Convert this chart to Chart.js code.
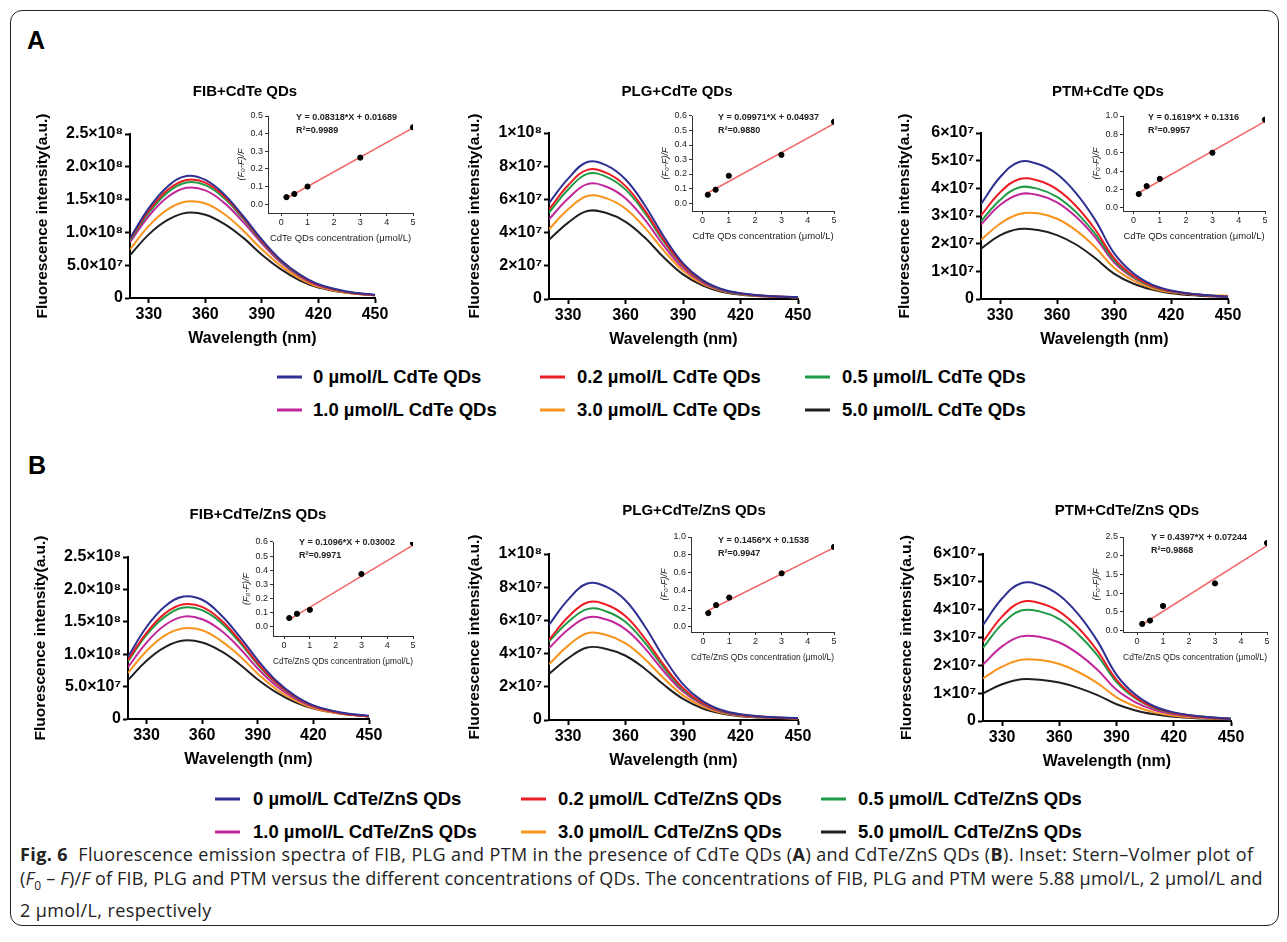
<!DOCTYPE html>
<html lang="en">
<head>
<meta charset="UTF-8">
<title>Fig. 6 Fluorescence emission spectra</title>
<script src="https://cdn.jsdelivr.net/npm/chart.js@4.4.1/dist/chart.umd.min.js"></script>
<style>
    body { margin: 0; background: #fff; }
    #page { position: relative; width: 1287px; height: 942px; overflow: hidden; background: #fff;
            font-family: "Liberation Sans", Arial, sans-serif; color: #000; }
    #frame { position: absolute; left: 10px; top: 10px; width: 1267px; height: 914px;
             border: 1.5px solid #222; border-radius: 12px; }
    canvas { position: absolute; }
    .panel-label { position: absolute; font-weight: bold; font-size: 25px; line-height: 25px; }
    .chart-title { position: absolute; font-weight: bold; font-size: 15px; line-height: 18px;
                   transform: translate(-50%, -50%); white-space: nowrap; }
    .legend-item { position: absolute; font-weight: bold; font-size: 18.5px; line-height: 22px;
                   white-space: nowrap; transform: translateY(-50%); }
    .legend-line { position: absolute; height: 3px; width: 25px; transform: translateY(-50%); }
    #caption { position: absolute; left: 20px; top: 842px; font-family: "Open Sans", sans-serif;
               font-size: 18px; letter-spacing: 0.4px; line-height: 24px; white-space: nowrap; color: #222; }
    #caption b { font-weight: bold; }
    #caption .tight { letter-spacing: 0.18px; }
</style>
</head>
<body>
<div id="page">
    <div id="frame"></div>
    <div class="panel-label" style="left:27px; top:28px;">A</div>
    <div class="panel-label" style="left:28px; top:453px;">B</div>
    <div id="caption">
        <b>Fig. 6</b>&nbsp; Fluorescence emission spectra of FIB, PLG and PTM in the presence of CdTe QDs (<b>A</b>) and CdTe/ZnS QDs (<b>B</b>). Inset: Stern–Volmer plot of<br>
        <span class="tight">(<i>F</i><sub style="font-size:12px">0</sub> – <i>F</i>)/<i>F</i> of FIB, PLG and PTM versus the different concentrations of QDs. The concentrations of FIB, PLG and PTM were 5.88 µmol/L, 2 µmol/L and</span><br>
        2 µmol/L, respectively
    </div>
</div>

<script>
    // wavelength grid (nm)
    const wavelengths = [320, 330, 340, 350, 360, 370, 380, 390, 400, 410, 420, 435, 450];
    const xTicks = [330, 360, 390, 420, 450];

    const seriesColors = ['#2e3192', '#ed1c24', '#1f9a45', '#c2269a', '#f7941d', '#231f20'];
    const cdteLegend = ['0 µmol/L CdTe QDs', '0.2 µmol/L CdTe QDs', '0.5 µmol/L CdTe QDs',
                        '1.0 µmol/L CdTe QDs', '3.0 µmol/L CdTe QDs', '5.0 µmol/L CdTe QDs'];
    const znsLegend = ['0 µmol/L CdTe/ZnS QDs', '0.2 µmol/L CdTe/ZnS QDs', '0.5 µmol/L CdTe/ZnS QDs',
                       '1.0 µmol/L CdTe/ZnS QDs', '3.0 µmol/L CdTe/ZnS QDs', '5.0 µmol/L CdTe/ZnS QDs'];

    // y tick labels
    const fibTicks = ['0', '5.0×10⁷', '1.0×10⁸', '1.5×10⁸', '2.0×10⁸', '2.5×10⁸'];
    const plgTicks = ['0', '2×10⁷', '4×10⁷', '6×10⁷', '8×10⁷', '1×10⁸'];
    const ptmTicks = ['0', '1×10⁷', '2×10⁷', '3×10⁷', '4×10⁷', '5×10⁷', '6×10⁷'];

    // spectra, one row per QD concentration (0, 0.2, 0.5, 1.0, 3.0, 5.0)
    // FIB in units of 1e8, PLG in units of 1e6, PTM in units of 1e7
    const fibCdTe = [
        [0.91, 1.37, 1.70, 1.86, 1.80, 1.58, 1.25, 0.89, 0.58, 0.36, 0.21, 0.10, 0.05],
        [0.90, 1.33, 1.65, 1.80, 1.76, 1.55, 1.23, 0.87, 0.57, 0.35, 0.20, 0.09, 0.04],
        [0.88, 1.30, 1.61, 1.76, 1.72, 1.52, 1.21, 0.86, 0.56, 0.34, 0.20, 0.09, 0.04],
        [0.85, 1.25, 1.54, 1.68, 1.64, 1.45, 1.16, 0.83, 0.54, 0.33, 0.19, 0.09, 0.04],
        [0.74, 1.10, 1.35, 1.47, 1.44, 1.28, 1.03, 0.74, 0.49, 0.30, 0.17, 0.08, 0.04],
        [0.65, 0.97, 1.19, 1.30, 1.27, 1.13, 0.92, 0.66, 0.44, 0.27, 0.16, 0.08, 0.04]
    ];
    const plgCdTe = [
        [57.8, 72.5, 82.5, 80.5, 72.0, 56.5, 37.5, 21.5, 11.5, 6.0, 3.5, 1.8, 1.2],
        [54.0, 68.5, 77.8, 76.0, 68.0, 53.4, 35.5, 20.5, 11.0, 5.8, 3.3, 1.7, 1.1],
        [52.0, 66.0, 75.4, 73.6, 65.9, 51.8, 34.5, 20.0, 10.7, 5.6, 3.2, 1.7, 1.1],
        [48.0, 60.5, 69.2, 67.6, 60.6, 47.8, 32.0, 18.6, 10.0, 5.3, 3.1, 1.6, 1.1],
        [42.0, 54.0, 62.0, 60.6, 54.4, 43.0, 29.0, 17.0, 9.2, 4.9, 2.9, 1.5, 1.0],
        [35.7, 46.0, 53.0, 51.8, 46.5, 37.0, 25.0, 14.8, 8.2, 4.4, 2.6, 1.4, 0.9]
    ];
    const ptmCdTe = [
        [3.43, 4.40, 4.95, 4.88, 4.52, 3.83, 2.87, 1.66, 0.94, 0.52, 0.31, 0.16, 0.08],
        [3.02, 3.85, 4.33, 4.28, 3.96, 3.36, 2.52, 1.48, 0.85, 0.48, 0.29, 0.15, 0.08],
        [2.81, 3.58, 4.03, 3.98, 3.69, 3.14, 2.36, 1.40, 0.81, 0.46, 0.28, 0.15, 0.08],
        [2.69, 3.40, 3.78, 3.76, 3.49, 2.97, 2.24, 1.33, 0.78, 0.45, 0.27, 0.15, 0.08],
        [2.14, 2.72, 3.07, 3.10, 2.90, 2.48, 1.88, 1.13, 0.67, 0.39, 0.24, 0.14, 0.12],
        [1.82, 2.30, 2.53, 2.49, 2.31, 1.97, 1.48, 0.92, 0.56, 0.34, 0.21, 0.12, 0.07]
    ];
    const fibZnS = [
        [0.96, 1.42, 1.74, 1.89, 1.84, 1.61, 1.28, 0.91, 0.59, 0.36, 0.21, 0.10, 0.05],
        [0.91, 1.33, 1.63, 1.77, 1.73, 1.53, 1.22, 0.86, 0.56, 0.35, 0.20, 0.09, 0.04],
        [0.89, 1.30, 1.58, 1.72, 1.68, 1.49, 1.19, 0.84, 0.55, 0.34, 0.20, 0.09, 0.04],
        [0.80, 1.18, 1.45, 1.58, 1.54, 1.37, 1.10, 0.78, 0.51, 0.32, 0.19, 0.09, 0.04],
        [0.71, 1.05, 1.29, 1.40, 1.37, 1.21, 0.98, 0.70, 0.46, 0.29, 0.17, 0.08, 0.04],
        [0.60, 0.90, 1.11, 1.21, 1.18, 1.05, 0.85, 0.61, 0.41, 0.26, 0.16, 0.08, 0.04]
    ];
    const plgZnS = [
        [57.3, 72.5, 82.2, 80.2, 72.0, 56.5, 37.5, 21.5, 11.5, 6.0, 3.5, 1.8, 1.2],
        [48.3, 62.0, 70.8, 69.4, 62.5, 49.2, 33.0, 19.2, 10.4, 5.5, 3.2, 1.7, 1.1],
        [47.3, 59.0, 66.8, 65.4, 59.0, 46.6, 31.4, 18.3, 10.0, 5.3, 3.1, 1.6, 1.1],
        [43.3, 54.5, 61.8, 60.5, 54.6, 43.3, 29.2, 17.1, 9.4, 5.0, 2.9, 1.5, 1.0],
        [33.6, 44.8, 52.3, 51.2, 46.2, 36.8, 25.0, 14.8, 8.2, 4.4, 2.6, 1.4, 0.9],
        [27.8, 37.2, 43.7, 42.8, 38.7, 30.9, 21.2, 12.7, 7.1, 3.9, 2.3, 1.3, 0.8]
    ];
    const ptmZnS = [
        [3.45, 4.40, 4.95, 4.88, 4.52, 3.83, 2.87, 1.66, 0.94, 0.52, 0.31, 0.16, 0.08],
        [2.85, 3.75, 4.27, 4.23, 3.93, 3.34, 2.52, 1.48, 0.85, 0.48, 0.29, 0.15, 0.08],
        [2.63, 3.48, 3.97, 3.93, 3.66, 3.11, 2.36, 1.40, 0.81, 0.46, 0.28, 0.15, 0.08],
        [2.03, 2.68, 3.04, 3.02, 2.82, 2.41, 1.84, 1.12, 0.67, 0.39, 0.24, 0.13, 0.07],
        [1.53, 1.95, 2.20, 2.19, 2.05, 1.76, 1.36, 0.85, 0.52, 0.31, 0.19, 0.11, 0.06],
        [0.99, 1.32, 1.50, 1.48, 1.38, 1.19, 0.93, 0.60, 0.38, 0.24, 0.15, 0.09, 0.05]
    ];

    // Stern-Volmer insets: (F0-F)/F vs QD concentration
    const qdConc = [0.2, 0.5, 1, 3, 5];
    const svTicksX = ['0', '1', '2', '3', '4', '5'];
    const fibCdTeSV = [0.040, 0.058, 0.100, 0.264, 0.436];
    const plgCdTeSV = [0.057, 0.092, 0.188, 0.332, 0.560];
    const ptmCdTeSV = [0.150, 0.236, 0.315, 0.600, 0.960];
    const fibZnSSV = [0.063, 0.093, 0.121, 0.374, 0.593];
    const plgZnSSV = [0.154, 0.243, 0.327, 0.596, 0.890];
    const ptmZnSSV = [0.177, 0.266, 0.656, 1.259, 2.340];
    // fitted line value at 0.2 and at 5
    const fibCdTeFit = [0.0335, 0.4328];
    const plgCdTeFit = [0.0693, 0.5479];
    const ptmCdTeFit = [0.1640, 0.9411];
    const fibZnSFit = [0.0519, 0.5780];
    const plgZnSFit = [0.1829, 0.8818];
    const ptmZnSFit = [0.1604, 2.2709];
    const svTicks06 = ['0.0', '0.1', '0.2', '0.3', '0.4', '0.5', '0.6'];
    const svTicks05 = ['0.0', '0.1', '0.2', '0.3', '0.4', '0.5'];
    const svTicks10 = ['0.0', '0.2', '0.4', '0.6', '0.8', '1.0'];
    const svTicks25 = ['0.0', '0.5', '1.0', '1.5', '2.0', '2.5'];

    Chart.defaults.font.family = '"Liberation Sans", Arial, sans-serif';
    Chart.defaults.color = '#000';

    const page = document.getElementById('page');

    function addCanvas(left, top, w, h) {
        const cv = document.createElement('canvas');
        cv.width = w;
        cv.height = h;
        cv.style.left = left + 'px';
        cv.style.top = top + 'px';
        cv.style.width = w + 'px';
        cv.style.height = h + 'px';
        page.appendChild(cv);
        return cv;
    }

    function addDiv(cls, html, style) {
        const d = document.createElement('div');
        d.className = cls;
        d.innerHTML = html;
        Object.assign(d.style, style);
        page.appendChild(d);
        return d;
    }

    // main spectra charts
    const YW = 100, XH = 50, PT = 40, PR = 25;

    function spectraChart(p) {
        const w = YW + (p.right - p.axisX) + PR;
        const h = PT + (p.bottom - p.top) + XH;
        const cv = addCanvas(p.axisX - YW, p.top - PT, w, h);
        addDiv('chart-title', p.title, { left: p.titleX + 'px', top: p.titleY + 'px' });

        new Chart(cv, {
            type: 'line',
            data: {
                datasets: p.series.map((vals, i) => ({
                    label: p.legend[i],
                    data: wavelengths.map((wl, j) => ({ x: wl, y: vals[j] })),
                    borderColor: seriesColors[i],
                    borderWidth: 2,
                    pointRadius: 0,
                    tension: 0.4,
                    fill: false
                }))
            },
            options: {
                responsive: false,
                animation: false,
                layout: { padding: { top: PT, right: PR, left: 0, bottom: 0 } },
                plugins: { legend: { display: false }, tooltip: { enabled: false } },
                scales: {
                    x: {
                        type: 'linear', min: 320, max: 450,
                        afterBuildTicks: s => { s.ticks = xTicks.map(v => ({ value: v })); },
                        afterFit: s => { s.height = XH; },
                        grid: { display: true, drawOnChartArea: false, drawTicks: true, tickLength: 5,
                                tickWidth: 2, tickColor: '#000' },
                        border: { display: true, color: '#000', width: 2 },
                        ticks: { font: { size: 16, weight: 'bold' }, padding: 2, maxRotation: 0, autoSkip: false },
                        title: { display: true, text: 'Wavelength (nm)', font: { size: 16, weight: 'bold' },
                                 padding: { top: 0, bottom: 0 } }
                    },
                    y: {
                        min: 0, max: p.yMax,
                        afterBuildTicks: s => { s.ticks = p.yTicks.map((_, i) => ({ value: i * p.yStep })); },
                        afterFit: s => { s.width = YW; },
                        grid: { display: true, drawOnChartArea: false, drawTicks: true, tickLength: 5,
                                tickWidth: 2, tickColor: '#000' },
                        border: { display: true, color: '#000', width: 2 },
                        ticks: { font: { size: 16, weight: 'bold' }, padding: 2, autoSkip: false,
                                 callback: (v, i) => p.yTicks[i] },
                        title: { display: true, text: 'Fluorescence intensity(a.u.)',
                                 font: { size: 15.5, weight: 'bold' }, padding: { top: p.titlePad, bottom: 0 } }
                    }
                }
            }
        });
    }

    // equation text inside each inset
    const fitText = {
        id: 'fitText',
        afterDraw(chart, args, opts) {
            const { ctx, chartArea } = chart;
            ctx.save();
            ctx.font = 'bold 9px "Liberation Sans", Arial, sans-serif';
            ctx.fillStyle = '#222';
            ctx.textBaseline = 'middle';
            ctx.fillText(opts.eq, chartArea.left + opts.dx, chartArea.top + opts.dy);
            ctx.fillText(opts.r2, chartArea.left + opts.dx, chartArea.top + opts.dy + 13);
            ctx.restore();
        }
    };

    const IYW = 36, IXH = 32, IPT = 8, IPR = 12;

    function insetChart(p) {
        const w = IYW + (p.right - p.left) + IPR;
        const h = IPT + (p.bottom - p.top) + IXH;
        const cv = addCanvas(p.left - IYW, p.top - IPT, w, h);
        const axisGrid = { display: true, drawOnChartArea: false, drawTicks: true, tickLength: 3,
                           tickWidth: 1, tickColor: '#333' };

        new Chart(cv, {
            type: 'scatter',
            data: {
                datasets: [
                    {
                        data: qdConc.map((c, i) => ({ x: c, y: p.vals[i] })),
                        pointRadius: 2.6, backgroundColor: '#000', borderColor: '#000', order: 0
                    },
                    {
                        type: 'line',
                        data: [{ x: qdConc[0], y: p.fit[0] }, { x: qdConc[qdConc.length - 1], y: p.fit[1] }],
                        borderColor: '#f26767', borderWidth: 1.5, pointRadius: 0, order: 1
                    }
                ]
            },
            options: {
                responsive: false,
                animation: false,
                layout: { padding: { top: IPT, right: IPR, left: 0, bottom: 0 } },
                plugins: {
                    legend: { display: false }, tooltip: { enabled: false },
                    fitText: { eq: p.eq, r2: p.r2, dx: p.dx, dy: p.dy }
                },
                scales: {
                    x: {
                        type: 'linear', min: p.xMin, max: 5,
                        afterBuildTicks: s => { s.ticks = svTicksX.map((_, i) => ({ value: i })); },
                        afterFit: s => { s.height = IXH; },
                        grid: axisGrid,
                        border: { display: true, color: '#333', width: 1 },
                        ticks: { font: { size: 9 }, color: '#222', padding: 1, maxRotation: 0, autoSkip: false,
                                 callback: (v, i) => svTicksX[i] },
                        title: { display: true, text: p.xTitle, font: { size: 9.5 }, color: '#222',
                                 padding: { top: 0, bottom: 1 } }
                    },
                    y: {
                        min: p.yMin, max: p.yMax,
                        afterBuildTicks: s => { s.ticks = p.yTicks.map((_, i) => ({ value: i * p.yStep })); },
                        afterFit: s => { s.width = IYW; },
                        grid: axisGrid,
                        border: { display: true, color: '#333', width: 1 },
                        ticks: { font: { size: 9 }, color: '#222', padding: 2, autoSkip: false,
                                 callback: (v, i) => p.yTicks[i] },
                        title: { display: true, text: '(F₀-F)/F', font: { size: 9, style: 'italic' }, color: '#222',
                                 padding: { top: 3.6, bottom: 0 } }
                    }
                }
            },
            plugins: [fitText]
        });
    }

    const panels = [
        { series: fibCdTe, legend: cdteLegend, axisX: 130, top: 134, bottom: 298, right: 375, yMax: 2.5, yStep: 0.5,
          yTicks: fibTicks, titlePad: 3.7, title: 'FIB+CdTe QDs', titleX: 245, titleY: 91 },
        { series: plgCdTe, legend: cdteLegend, axisX: 549, top: 133, bottom: 299, right: 798, yMax: 100, yStep: 20,
          yTicks: plgTicks, titlePad: 16.7, title: 'PLG+CdTe QDs', titleX: 677, titleY: 91 },
        { series: ptmCdTe, legend: cdteLegend, axisX: 981, top: 133, bottom: 299, right: 1228, yMax: 6, yStep: 1,
          yTicks: ptmTicks, titlePad: 14.7, title: 'PTM+CdTe QDs', titleX: 1108, titleY: 91 },
        { series: fibZnS, legend: znsLegend, axisX: 128, top: 557, bottom: 719, right: 369, yMax: 2.5, yStep: 0.5,
          yTicks: fibTicks, titlePad: 3.7, title: 'FIB+CdTe/ZnS QDs', titleX: 258, titleY: 514 },
        { series: plgZnS, legend: znsLegend, axisX: 549, top: 554, bottom: 720, right: 798, yMax: 100, yStep: 20,
          yTicks: plgTicks, titlePad: 16.7, title: 'PLG+CdTe/ZnS QDs', titleX: 694, titleY: 510 },
        { series: ptmZnS, legend: znsLegend, axisX: 983, top: 554, bottom: 721, right: 1231, yMax: 6, yStep: 1,
          yTicks: ptmTicks, titlePad: 14.7, title: 'PTM+CdTe/ZnS QDs', titleX: 1127, titleY: 510 }
    ];

    const cdteAxis = 'CdTe QDs concentration (μmol/L)';
    const znsAxis = 'CdTe/ZnS QDs concentration (μmol/L)';
    const insets = [
        { vals: fibCdTeSV, fit: fibCdTeFit, left: 268, right: 413, top: 116, bottom: 213, xMin: -0.5,
          yMin: -0.05, yMax: 0.5, yStep: 0.1, yTicks: svTicks05, xTitle: cdteAxis,
          eq: 'Y = 0.08318*X + 0.01689', r2: 'R²=0.9989', dx: 28, dy: 2 },
        { vals: plgCdTeSV, fit: plgCdTeFit, left: 692, right: 834, top: 116, bottom: 211, xMin: -0.4,
          yMin: -0.055, yMax: 0.6, yStep: 0.1, yTicks: svTicks06, xTitle: cdteAxis,
          eq: 'Y = 0.09971*X + 0.04937', r2: 'R²=0.9880', dx: 26, dy: 2 },
        { vals: ptmCdTeSV, fit: ptmCdTeFit, left: 1123, right: 1265, top: 116, bottom: 211, xMin: -0.4,
          yMin: -0.035, yMax: 1.0, yStep: 0.2, yTicks: svTicks10, xTitle: cdteAxis,
          eq: 'Y = 0.1619*X + 0.1316', r2: 'R²=0.9957', dx: 25, dy: 2 },
        { vals: fibZnSSV, fit: fibZnSFit, left: 273, right: 413, top: 542, bottom: 636, xMin: -0.43,
          yMin: -0.064, yMax: 0.6, yStep: 0.1, yTicks: svTicks06, xTitle: znsAxis,
          eq: 'Y = 0.1096*X + 0.03002', r2: 'R²=0.9971', dx: 26, dy: 1 },
        { vals: plgZnSSV, fit: plgZnSFit, left: 691, right: 834, top: 537, bottom: 632, xMin: -0.46,
          yMin: -0.056, yMax: 1.0, yStep: 0.2, yTicks: svTicks10, xTitle: znsAxis,
          eq: 'Y = 0.1456*X + 0.1538', r2: 'R²=0.9947', dx: 27, dy: 4 },
        { vals: ptmZnSSV, fit: ptmZnSFit, left: 1123, right: 1267, top: 537, bottom: 632, xMin: -0.54,
          yMin: -0.04, yMax: 2.5, yStep: 0.5, yTicks: svTicks25, xTitle: znsAxis,
          eq: 'Y = 0.4397*X + 0.07244', r2: 'R²=0.9868', dx: 28, dy: 1 }
    ];

    panels.forEach(spectraChart);
    insets.forEach(insetChart);

    // shared legends under each row
    function legendBlock(texts, rows, lineX, textX) {
        texts.forEach((t, i) => {
            const r = Math.floor(i / 3), c = i % 3;
            addDiv('legend-line', '', { left: lineX[c] + 'px', top: rows[r] + 'px', background: seriesColors[i] });
            addDiv('legend-item', t, { left: textX[c] + 'px', top: rows[r] + 'px' });
        });
    }
    legendBlock(cdteLegend, [377, 410], [277, 540, 805], [313, 577, 842]);
    legendBlock(znsLegend, [799, 832], [215, 521, 821], [253, 558, 858]);
</script>
</body>
</html>
